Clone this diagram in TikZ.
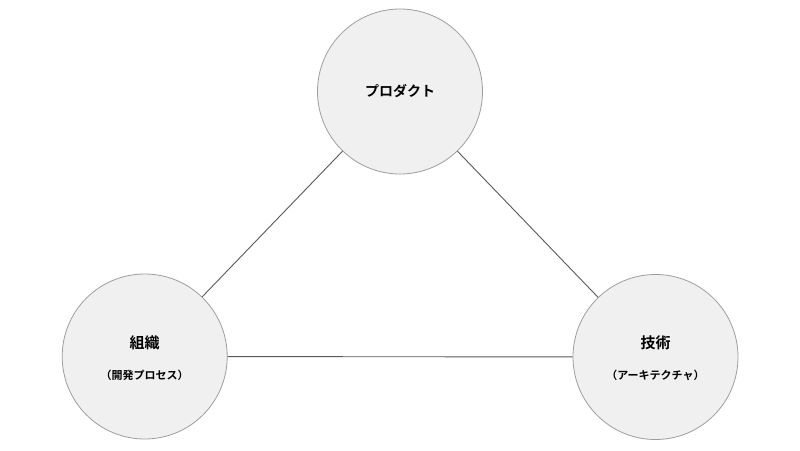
\documentclass[tikz,border=0pt]{standalone}
\usepackage{fontspec}
\newfontfamily\cjk{Noto Sans CJK JP}[BoldFont={Noto Sans CJK JP Bold}]
\begin{document}
\begin{tikzpicture}[x=1pt,y=-1pt,
  topic/.style={circle,draw=black!38,fill=black!6,line width=0.8pt,minimum size=165pt,inner sep=0pt,align=center,font=\cjk\bfseries},
  title/.style={font=\cjk\bfseries\fontsize{15pt}{17pt}\selectfont},
  sub/.style={font=\cjk\bfseries\fontsize{11pt}{13pt}\selectfont},
  link/.style={draw=black!65,line width=0.9pt}]
\useasboundingbox[fill=white] (0,0) rectangle (800,450);
\node[topic] (prod) at (400,91.5) {\fontsize{14pt}{16pt}\selectfont プロダクト};
\node[topic] (org) at (144.7,356.5) {};
\node[topic] (tech) at (655.5,357) {};
\node[title] (orgT) at (144.7,343) {組織};
\node[sub] (orgS) at (144.7,375) {（開発プロセス）};
\node[title] (techT) at (655.5,343) {技術};
\node[sub] (techS) at (655.5,375) {（アーキテクチャ）};
\draw[link] (prod) -- (org);
\draw[link] (prod) -- (tech);
\draw[link] (org) -- (tech);
\end{tikzpicture}
\end{document}
